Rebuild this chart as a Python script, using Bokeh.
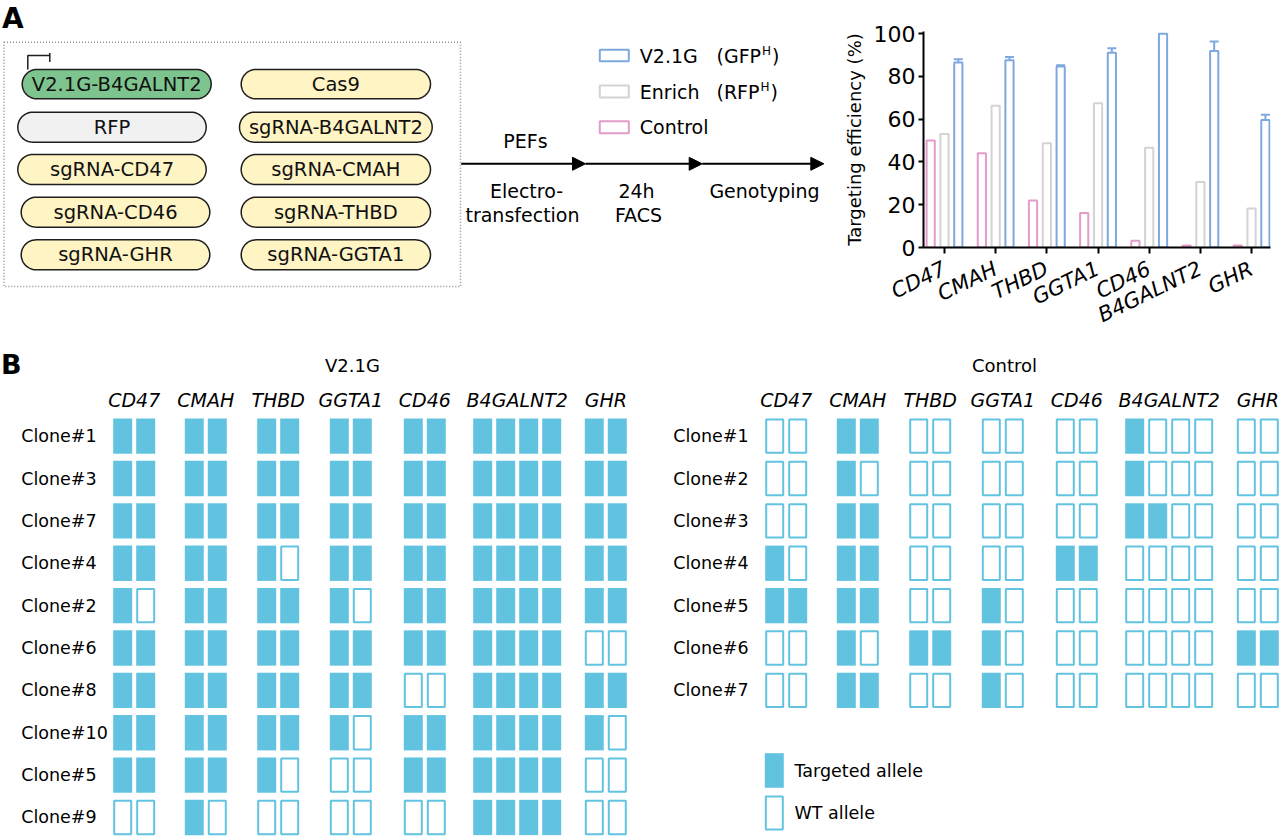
import numpy as np
from bokeh.plotting import figure
from bokeh.models import Range1d, FixedTicker, Arrow, NormalHead, TeeHead, Whisker, ColumnDataSource
from bokeh.layouts import column, row
from bokeh.core.properties import value
from bokeh.embed import file_html
from bokeh.resources import INLINE

FONT = "DejaVu Sans"

# ---------------- data ----------------
genes = ["CD47", "CMAH", "THBD", "GGTA1", "CD46", "B4GALNT2", "GHR"]
control_eff = [50.0, 44.1, 22.0, 16.1, 3.1, 0.9, 0.9]
enrich_eff = [53.1, 66.3, 48.8, 67.4, 46.6, 30.6, 18.2]
v21g_eff = [86.5, 87.6, 84.6, 91.1, 100.0, 91.9, 59.6]
v21g_err = [88.0, 89.1, 85.2, 93.2, None, 96.3, 62.1]
y_ticks = [0, 20, 40, 60, 80, 100]

series_labels = ["V2.1G", "Enrich", "Control"]
series_tags = ["(GFP", "(RFP", ""]

plasmids_left = ["V2.1G-B4GALNT2", "RFP", "sgRNA-CD47", "sgRNA-CD46", "sgRNA-GHR"]
plasmids_right = ["Cas9", "sgRNA-B4GALNT2", "sgRNA-CMAH", "sgRNA-THBD", "sgRNA-GGTA1"]

v21g_clones = ["Clone#1", "Clone#3", "Clone#7", "Clone#4", "Clone#2",
               "Clone#6", "Clone#8", "Clone#10", "Clone#5", "Clone#9"]
v21g_status = [
    "11 11 11 11 11 1111 11",
    "11 11 11 11 11 1111 11",
    "11 11 11 11 11 1111 11",
    "11 11 10 11 11 1111 11",
    "10 11 11 10 11 1111 11",
    "11 11 11 11 11 1111 00",
    "11 11 11 11 00 1111 11",
    "11 11 11 10 11 1111 10",
    "11 11 10 00 11 1111 00",
    "00 10 00 00 00 1111 00",
]
ctrl_clones = ["Clone#1", "Clone#2", "Clone#3", "Clone#4", "Clone#5", "Clone#6", "Clone#7"]
ctrl_status = [
    "00 11 00 00 00 1000 00",
    "00 10 00 00 00 1000 00",
    "00 11 00 00 00 1100 00",
    "10 11 00 00 11 0000 00",
    "11 11 00 10 00 0000 00",
    "00 10 11 10 00 0000 11",
    "00 11 00 10 00 0000 00",
]
allele_legend = ["Targeted allele", "WT allele"]

# ---------------- styles ----------------
BLUE = "#7FA8DE"
GRAY = "#D3D3D3"
PINK = "#E29CC9"
CELL = "#62C3E1"
GREEN = "#7EC48F"
LGRAY = "#F1F1F1"
YELLOW = "#FFF4C4"


def no_align(p):
    try:
        p.frame_align = False
    except Exception:
        pass


def canvas(x0, x1, y0, y1):
    p = figure(width=int(round(x1 - x0)), height=int(round(y1 - y0)),
               x_range=Range1d(x0, x1), y_range=Range1d(y1, y0),
               toolbar_location=None, output_backend="svg", min_border=0,
               x_axis_location=None, y_axis_location=None)
    p.grid.visible = False
    p.outline_line_color = None
    p.background_fill_color = "white"
    p.border_fill_color = "white"
    no_align(p)
    return p


def txt(p, x, y, s, size="19px", align="center", style="normal", color="black", baseline="middle"):
    p.text(x=[x], y=[y], text=[s], text_font=value(FONT), text_font_size=size,
           text_align=align, text_baseline=baseline, text_font_style=style, text_color=color)


def pill(x0, x1, y0, y1, n=30):
    r = (y1 - y0) / 2.0
    cy = (y0 + y1) / 2.0
    t = np.linspace(-np.pi / 2, np.pi / 2, n)
    xr = x1 - r + r * np.cos(t)
    yr = cy + r * np.sin(t)
    xl = x0 + r - r * np.cos(t)
    yl = cy - r * np.sin(t)
    return list(np.concatenate([xr, xl])), list(np.concatenate([yr, yl]))


# ---------------- panel A: diagram ----------------
pa = canvas(0, 840, 0, 348)
txt(pa, 1.5, 17.5, "A", size="28px", align="left", style="bold")

# dashed box
pa.quad(left=[3.5], right=[460], top=[41.7], bottom=[286], fill_color=None,
        line_color="#8f8f8f", line_width=1.5, line_dash="1 2")

row_y = [(69, 98.3), (111.7, 141.7), (154, 184), (196.7, 226.7), (239.3, 269.3)]
left_x = [(21.7, 210.7), (17.3, 205.7), (17.3, 205.7), (20.7, 209.3), (20.7, 209.3)]
right_x = [(240.7, 430), (239, 431.7), (240.7, 430), (240.7, 430), (240.7, 430)]
left_fill = [GREEN, LGRAY, YELLOW, YELLOW, YELLOW]
xs, ys, fills, cx, cy, labels = [], [], [], [], [], []
for i, name in enumerate(plasmids_left):
    a, b = pill(left_x[i][0], left_x[i][1], row_y[i][0], row_y[i][1])
    xs.append(a); ys.append(b); fills.append(left_fill[i])
    cx.append((left_x[i][0] + left_x[i][1]) / 2); cy.append((row_y[i][0] + row_y[i][1]) / 2); labels.append(name)
for i, name in enumerate(plasmids_right):
    a, b = pill(right_x[i][0], right_x[i][1], row_y[i][0], row_y[i][1])
    xs.append(a); ys.append(b); fills.append(YELLOW)
    cx.append((right_x[i][0] + right_x[i][1]) / 2); cy.append((row_y[i][0] + row_y[i][1]) / 2); labels.append(name)
pa.patches(xs, ys, fill_color=fills, line_color="#1e1e1e", line_width=1.5)
pa.text(x=cx, y=cy, text=labels, text_font=value(FONT), text_font_size="19.5px",
        text_align="center", text_baseline="middle", text_color="#111111")

# promoter symbol
pa.multi_line(xs=[[27.3, 27.3, 49.3], [49.3, 49.3]], ys=[[69, 55, 55], [52.5, 61.5]],
              line_color="#1e1e1e", line_width=1.5)

# process arrows
arrow_pts = [(460.7, 585), (585, 701.7), (701.7, 823.3)]
for (a, b) in arrow_pts:
    pa.add_layout(Arrow(end=NormalHead(size=13, fill_color="black", line_color="black"),
                        x_start=a, y_start=163.3, x_end=b, y_end=163.3,
                        line_color="black", line_width=2))
txt(pa, 525, 140, "PEFs")
txt(pa, 526, 190, "Electro-")
txt(pa, 522, 214, "transfection")
txt(pa, 636, 190, "24h")
txt(pa, 638, 214, "FACS")
txt(pa, 764, 190, "Genotyping")

# legend for bar chart
sw_y = [(49.3, 60.7), (85, 97), (120.7, 132.7)]
sw_c = [BLUE, GRAY, PINK]
pa.quad(left=[599.3] * 3, right=[628.3] * 3, top=[s[0] for s in sw_y], bottom=[s[1] for s in sw_y],
        fill_color="white", line_color=sw_c, line_width=2)
leg_y = [55, 91, 126]
for i, lab in enumerate(series_labels):
    txt(pa, 639.3, leg_y[i], lab, align="left")
tag_x = [716, 716]
sup_x = [761.5, 760]
close_x = [771.5, 770]
for i in range(2):
    txt(pa, tag_x[i], leg_y[i], series_tags[i], align="left")
    txt(pa, sup_x[i], leg_y[i] - 5, "H", size="12px", align="left")
    txt(pa, close_x[i], leg_y[i], ")", align="left")

# ---------------- panel A: bar chart ----------------
pb = figure(width=440, height=348, x_range=Range1d(-0.41, 6.37), y_range=Range1d(0, 101),
            toolbar_location=None, output_backend="svg",
            min_border_left=82, min_border_right=10, min_border_top=31, min_border_bottom=101)
no_align(pb)
pb.grid.visible = False
pb.outline_line_color = None
xi = np.arange(len(genes))
bw = 0.16
pb.vbar(x=xi - 0.27, width=bw, top=control_eff, bottom=0, fill_color="white", line_color=PINK, line_width=2)
pb.vbar(x=xi, width=bw, top=enrich_eff, bottom=0, fill_color="white", line_color=GRAY, line_width=2)
pb.vbar(x=xi + 0.27, width=bw, top=v21g_eff, bottom=0, fill_color="white", line_color=BLUE, line_width=2)
ex = [float(xi[i] + 0.27) for i in range(len(genes)) if v21g_err[i] is not None]
elo = [v21g_eff[i] for i in range(len(genes)) if v21g_err[i] is not None]
ehi = [v21g_err[i] for i in range(len(genes)) if v21g_err[i] is not None]
esrc = ColumnDataSource(dict(x=ex, lower=elo, upper=ehi))
pb.add_layout(Whisker(source=esrc, base="x", lower="lower", upper="upper", dimension="height",
                      line_color=BLUE, line_width=2,
                      upper_head=TeeHead(size=9, line_color=BLUE, line_width=2), lower_head=None))

for ax in (pb.xaxis[0], pb.yaxis[0]):
    ax.axis_line_width = 2
    ax.major_tick_line_width = 2
    ax.minor_tick_line_color = None
    ax.major_tick_in = 0
    ax.major_label_text_font = FONT
    ax.major_label_text_color = "black"
    ax.axis_line_color = "black"
    ax.major_tick_line_color = "black"
pb.xaxis.ticker = FixedTicker(ticks=list(range(len(genes))))
pb.xaxis.major_label_overrides = {i: g for i, g in enumerate(genes)}
pb.xaxis.major_label_orientation = 0.45
pb.xaxis.major_label_text_font_style = "italic"
pb.xaxis.major_label_text_font_size = "21px"
pb.xaxis.major_tick_out = 6
pb.xaxis.major_label_standoff = 14
pb.yaxis.ticker = FixedTicker(ticks=y_ticks)
pb.yaxis.major_label_text_font_size = "22px"
pb.yaxis.major_tick_out = 5
pb.yaxis.major_label_standoff = 3
pb.yaxis.axis_label = "Targeting efficiency (%)"
pb.yaxis.axis_label_text_font = FONT
pb.yaxis.axis_label_text_font_style = "normal"
pb.yaxis.axis_label_text_font_size = "18px"
pb.yaxis.axis_label_standoff = 6
pb.yaxis.axis_label_text_color = "black"

# ---------------- panel B: genotypes ----------------
pB = canvas(0, 1280, 348, 836)
txt(pB, 0.5, 364, "B", size="27px", align="left", style="bold")

GROUP_X = [112.7, 184.3, 256.7, 329.3, 403.3, 472.7, 584.3]
CELL_W = 19.0
CELL_P = 23.0
ROW_TOP = 418.0
ROW_H = 35.3
ROW_P = 42.37
CTRL_OFF = 652.0
LABEL_X = 20.7


def draw_grid(p, off, title, title_x, clones, status):
    fl, fr, ft, fb = [], [], [], []
    el, er, et, eb = [], [], [], []
    for r, s in enumerate(status):
        top = ROW_TOP + r * ROW_P
        for g, bits in enumerate(s.split()):
            for k, b in enumerate(bits):
                left = off + GROUP_X[g] + k * CELL_P
                if b == "1":
                    fl.append(left); fr.append(left + CELL_W); ft.append(top); fb.append(top + ROW_H)
                else:
                    el.append(left + 1); er.append(left + CELL_W - 1); et.append(top + 1); eb.append(top + ROW_H - 1)
    p.quad(left=fl, right=fr, top=ft, bottom=fb, fill_color=CELL, line_color=None)
    p.quad(left=el, right=er, top=et, bottom=eb, fill_color="white", line_color=CELL, line_width=2)
    p.text(x=[off + LABEL_X] * len(clones), y=[ROW_TOP + r * ROW_P + ROW_H / 2 for r in range(len(clones))],
           text=clones, text_font=value(FONT), text_font_size="17.5px", text_align="left",
           text_baseline="middle", text_color="black")
    hx = [off + GROUP_X[g] + (len(status[0].split()[g]) * CELL_P - (CELL_P - CELL_W)) / 2 for g in range(len(genes))]
    p.text(x=hx, y=[399] * len(genes), text=genes, text_font=value(FONT), text_font_size="19px",
           text_font_style="italic", text_align="center", text_baseline="middle", text_color="black")
    txt(p, title_x, 365, title, size="18px")


draw_grid(pB, 0, "V2.1G", 352, v21g_clones, v21g_status)
draw_grid(pB, CTRL_OFF, "Control", 1004, ctrl_clones, ctrl_status)

# allele legend
pB.quad(left=[764.3], right=[783.3], top=[752.7], bottom=[787.3], fill_color=CELL, line_color=None)
pB.quad(left=[765.3], right=[782.3], top=[796], bottom=[829], fill_color="white", line_color=CELL, line_width=2)
txt(pB, 794, 770.5, allele_legend[0], size="17.5px", align="left")
txt(pB, 794, 812.5, allele_legend[1], size="17.5px", align="left")

layout = column(row(pa, pb), pB)
open("out.html", "w").write(file_html(layout, INLINE))
